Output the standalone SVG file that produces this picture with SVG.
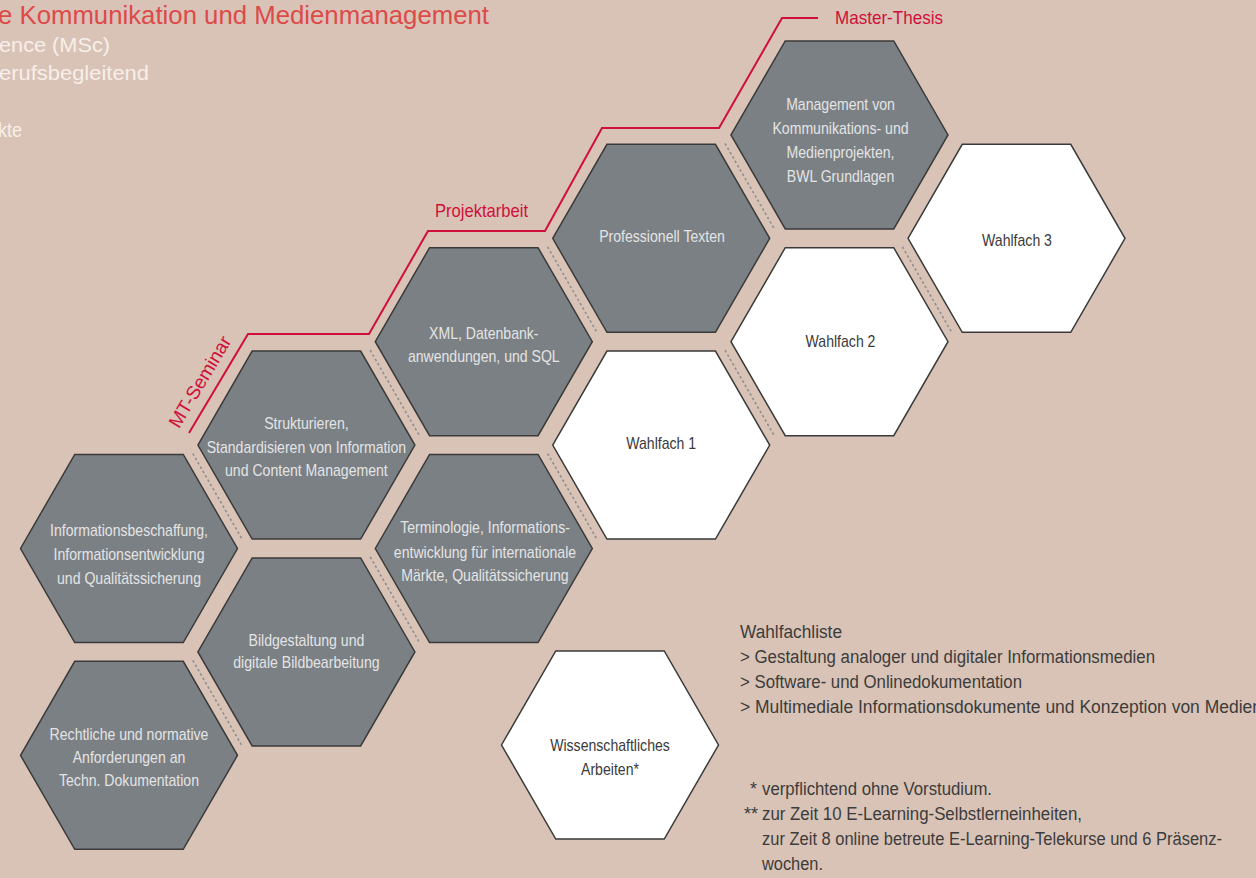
<svg xmlns="http://www.w3.org/2000/svg" xmlns:xlink="http://www.w3.org/1999/xlink" width="1256" height="878" viewBox="0 0 1256 878">
<style>
.grey{fill:#7b8085;stroke:#3a3a3a;stroke-width:1.5;stroke-linejoin:miter}
.white{fill:#ffffff;stroke:#3a3a3a;stroke-width:1.5;stroke-linejoin:miter}
.ht{font-family:"Liberation Sans",Arial,sans-serif;font-size:16px;fill:#e4e4e4;text-anchor:middle}
.wt{font-family:"Liberation Sans",Arial,sans-serif;font-size:16px;fill:#3a3a3a;text-anchor:middle}
.dot{stroke:#8e8e8e;stroke-width:1.6;stroke-dasharray:2.5 2.5;fill:none}
.red{stroke:#d0103a;stroke-width:2;fill:none;stroke-linejoin:miter}
.rl{font-family:"Liberation Sans",Arial,sans-serif;font-size:19px;fill:#d0103a}
.note{font-family:"Liberation Sans",Arial,sans-serif;font-size:18px;fill:#3c3c3c}
.head{font-family:"Liberation Sans",Arial,sans-serif;font-size:21px;fill:#f7efea}
</style>
<defs>
<polygon id="hex" points="-108.5,0 -54.25,-94 54.25,-94 108.5,0 54.25,94 -54.25,94"/>
</defs>
<rect x="0" y="0" width="1256" height="878" fill="#d9c3b6"/>

<g id="header">
<text x="-2" y="24" font-family="Liberation Sans, Arial, sans-serif" font-size="25.5" fill="#dd4a4a" textLength="491" lengthAdjust="spacingAndGlyphs">e Kommunikation und Medienmanagement</text>
<text class="head" x="-1" y="52" textLength="111" lengthAdjust="spacingAndGlyphs">ence (MSc)</text>
<text class="head" x="-1" y="80" textLength="150" lengthAdjust="spacingAndGlyphs">erufsbegleitend</text>
<text class="head" x="-2" y="137" textLength="24" lengthAdjust="spacingAndGlyphs">kte</text>
</g>

<g id="connectors">
<polyline class="red" points="189,433 248,334 369,334 428,231 545,231 602,128 719,128 782,18 818,18"/>
<line class="dot" x1="192.8" y1="453.6" x2="242.6" y2="540"/>
<line class="dot" x1="192.8" y1="660.4" x2="242.6" y2="746.8"/>
<line class="dot" x1="370.2" y1="350.2" x2="420" y2="436.6"/>
<line class="dot" x1="370.2" y1="557" x2="420" y2="643.4"/>
<line class="dot" x1="547.6" y1="246.8" x2="597.4" y2="333.2"/>
<line class="dot" x1="547.6" y1="453.6" x2="597.4" y2="540"/>
<line class="dot" x1="725" y1="143.4" x2="774.8" y2="229.8"/>
<line class="dot" x1="725" y1="350.2" x2="774.8" y2="436.6"/>
<line class="dot" x1="902.4" y1="246.8" x2="952.2" y2="333.2"/>
</g>

<g id="labels">
<text class="rl" transform="translate(205.5,385) rotate(-59)" text-anchor="middle" textLength="103" lengthAdjust="spacingAndGlyphs">MT-Seminar</text>
<text class="rl" x="435" y="217" textLength="93" lengthAdjust="spacingAndGlyphs">Projektarbeit</text>
<text class="rl" x="835" y="24" textLength="108" lengthAdjust="spacingAndGlyphs">Master-Thesis</text>
</g>

<g id="n-info">
<use xlink:href="#hex" href="#hex" class="grey" x="129" y="548.5"/>
<g transform="translate(129,0) scale(0.88,1)"><text class="ht"><tspan x="0" y="536">Informationsbeschaffung,</tspan><tspan x="0" y="560">Informationsentwicklung</tspan><tspan x="0" y="584">und Qualitätssicherung</tspan></text></g>
</g>
<g id="n-recht">
<use xlink:href="#hex" href="#hex" class="grey" x="129" y="755.3"/>
<g transform="translate(129,0) scale(0.88,1)"><text class="ht"><tspan x="0" y="740">Rechtliche und normative</tspan><tspan x="0" y="763">Anforderungen an</tspan><tspan x="0" y="786">Techn. Dokumentation</tspan></text></g>
</g>
<g id="n-struktur">
<use xlink:href="#hex" href="#hex" class="grey" x="306.4" y="445.1"/>
<g transform="translate(306.4,0) scale(0.88,1)"><text class="ht"><tspan x="0" y="429">Strukturieren,</tspan><tspan x="0" y="453">Standardisieren von Information</tspan><tspan x="0" y="476">und Content Management</tspan></text></g>
</g>
<g id="n-bild">
<use xlink:href="#hex" href="#hex" class="grey" x="306.4" y="651.9"/>
<g transform="translate(306.4,0) scale(0.88,1)"><text class="ht"><tspan x="0" y="646">Bildgestaltung und</tspan><tspan x="0" y="668">digitale Bildbearbeitung</tspan></text></g>
</g>
<g id="n-xml">
<use xlink:href="#hex" href="#hex" class="grey" x="483.8" y="341.7"/>
<g transform="translate(483.8,0) scale(0.88,1)"><text class="ht"><tspan x="0" y="339">XML, Datenbank-</tspan><tspan x="0" y="362">anwendungen, und SQL</tspan></text></g>
</g>
<g id="n-termino">
<use xlink:href="#hex" href="#hex" class="grey" x="483.8" y="548.5"/>
<g transform="translate(485,0) scale(0.88,1)"><text class="ht"><tspan x="0" y="533">Terminologie, Informations-</tspan><tspan x="0" y="558">entwicklung für internationale</tspan><tspan x="0" y="581">Märkte, Qualitätssicherung</tspan></text></g>
</g>
<g id="n-texten">
<use xlink:href="#hex" href="#hex" class="grey" x="661.2" y="238.3"/>
<g transform="translate(662,0) scale(0.88,1)"><text class="ht" x="0" y="242">Professionell Texten</text></g>
</g>
<g id="n-wahl1">
<use xlink:href="#hex" href="#hex" class="white" x="661.2" y="445.1"/>
<g transform="translate(661.2,0) scale(0.88,1)"><text class="wt" x="0" y="449">Wahlfach 1</text></g>
</g>
<g id="n-management">
<use xlink:href="#hex" href="#hex" class="grey" x="839.5" y="134.9"/>
<g transform="translate(840.5,0) scale(0.88,1)"><text class="ht"><tspan x="0" y="110">Management von</tspan><tspan x="0" y="134">Kommunikations- und</tspan><tspan x="0" y="158">Medienprojekten,</tspan><tspan x="0" y="182">BWL Grundlagen</tspan></text></g>
</g>
<g id="n-wahl2">
<use xlink:href="#hex" href="#hex" class="white" x="839.5" y="341.7"/>
<g transform="translate(840.5,0) scale(0.88,1)"><text class="wt" x="0" y="347">Wahlfach 2</text></g>
</g>
<g id="n-wahl3">
<use xlink:href="#hex" href="#hex" class="white" x="1016.5" y="238.3"/>
<g transform="translate(1017,0) scale(0.88,1)"><text class="wt" x="0" y="246">Wahlfach 3</text></g>
</g>
<g id="n-wiss">
<use xlink:href="#hex" href="#hex" class="white" x="610" y="745"/>
<g transform="translate(610,0) scale(0.88,1)"><text class="wt"><tspan x="0" y="751">Wissenschaftliches</tspan><tspan x="0" y="775">Arbeiten*</tspan></text></g>
</g>

<g id="wahlfachliste">
<text class="note" x="740" y="638" textLength="102" lengthAdjust="spacingAndGlyphs">Wahlfachliste</text>
<text class="note" x="740" y="663" textLength="415" lengthAdjust="spacingAndGlyphs">&gt; Gestaltung analoger und digitaler Informationsmedien</text>
<text class="note" x="740" y="688" textLength="282" lengthAdjust="spacingAndGlyphs">&gt; Software- und Onlinedokumentation</text>
<text class="note" x="740" y="713" textLength="522" lengthAdjust="spacingAndGlyphs">&gt; Multimediale Informationsdokumente und Konzeption von Medien</text>
</g>

<g id="footnotes">
<text class="note" x="757" y="795" text-anchor="end">*</text>
<text class="note" x="762" y="795" textLength="230" lengthAdjust="spacingAndGlyphs">verpflichtend ohne Vorstudium.</text>
<text class="note" x="758" y="820" text-anchor="end">**</text>
<text class="note" x="762" y="820" textLength="320" lengthAdjust="spacingAndGlyphs">zur Zeit 10 E-Learning-Selbstlerneinheiten,</text>
<text class="note" x="762" y="845" textLength="460" lengthAdjust="spacingAndGlyphs">zur Zeit 8 online betreute E-Learning-Telekurse und 6 Präsenz-</text>
<text class="note" x="762" y="870" textLength="61" lengthAdjust="spacingAndGlyphs">wochen.</text>
</g>
</svg>
